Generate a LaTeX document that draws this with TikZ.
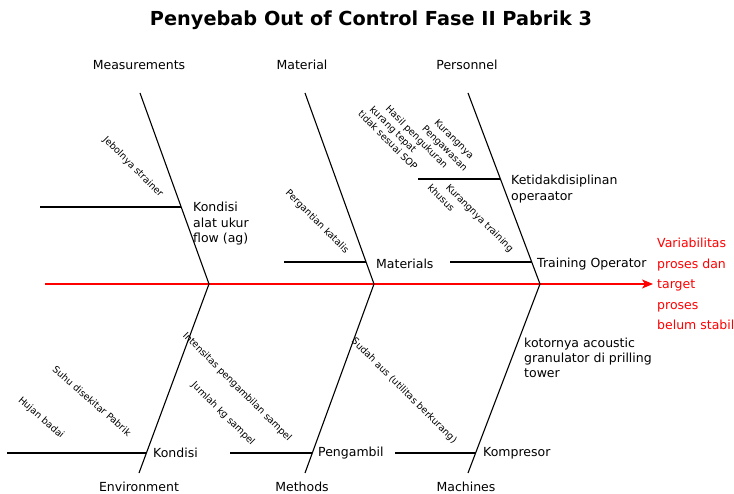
\documentclass[tikz,border=0pt]{standalone}
\usepackage{fontspec}
\setmainfont{DejaVu Sans}
\usetikzlibrary{arrows.meta}
\definecolor{effred}{RGB}{255,0,0}
\begin{document}
\begin{tikzpicture}[x=1pt,y=-1pt,
  bone/.style={line width=1.1pt, black},
  lab/.style={font=\fontsize{12.5}{15.5}\selectfont, inner sep=0pt, anchor=west, align=left},
  cat/.style={font=\fontsize{12.5}{15}\selectfont, inner sep=0pt},
  cause/.style={font=\fontsize{9.5}{11.5}\selectfont, inner sep=0pt, rotate=-45},
]
\useasboundingbox (0,0) rectangle (734,494);

% title
\node[font=\fontsize{19.3}{21}\bfseries\selectfont, inner sep=0pt] (title) at (371,20) {Penyebab Out of Control Fase II Pabrik 3};

% spine
\coordinate (spL) at (45,284);
\coordinate (spR) at (653,284);
\draw[line width=1.1pt, effred, -{Stealth[length=11pt,width=9pt,inset=3pt]}] (spL) -- (spR);

% bone end points
\coordinate (mT) at (140,93);  \coordinate (mB) at (209,284);
\coordinate (aT) at (305,93);  \coordinate (aB) at (374,284);
\coordinate (pT) at (468,93);  \coordinate (pB) at (540,284);
\coordinate (eB) at (139,473);
\coordinate (tB) at (305,473);
\coordinate (cB) at (468,473);

\draw[bone] (mT) -- (mB);
\draw[bone] (aT) -- (aB);
\draw[bone] (pT) -- (pB);
\draw[bone] (mB) -- (eB);
\draw[bone] (aB) -- (tB);
\draw[bone] (pB) -- (cB);

% branches
\coordinate (m1L) at (40,207);  \coordinate (m1R) at (181,207);
\coordinate (a1L) at (284,262); \coordinate (a1R) at (366,262);
\coordinate (p1L) at (418,179); \coordinate (p1R) at (500,179);
\coordinate (p2L) at (450,262); \coordinate (p2R) at (532,262);
\coordinate (e1L) at (7,453);   \coordinate (e1R) at (146,453);
\coordinate (t1L) at (230,453); \coordinate (t1R) at (312,453);
\coordinate (c1L) at (395,453); \coordinate (c1R) at (476,453);
\draw[bone] (m1L) -- (m1R);
\draw[bone] (a1L) -- (a1R);
\draw[bone] (p1L) -- (p1R);
\draw[bone] (p2L) -- (p2R);
\draw[bone] (e1L) -- (e1R);
\draw[bone] (t1L) -- (t1R);
\draw[bone] (c1L) -- (c1R);

% category labels
\node[cat] (meas) at (139,65) {Measurements};
\node[cat] (matl) at (302,65) {Material};
\node[cat] (pers) at (467,65) {Personnel};
\node[cat] (envi) at (139,487) {Environment};
\node[cat] (meth) at (302,487) {Methods};
\node[cat] (mach) at (466,487) {Machines};

% sub-cause labels
\node[lab] (kondA) at (193,224) {Kondisi\\alat ukur\\flow (ag)};
\node[lab] (mats) at (376,264) {Materials};
\node[lab] (ketid) at (511,189) {Ketidakdisiplinan\\operaator};
\node[lab] (train) at (537,264) {Training Operator};
\node[lab] (kond) at (153,453) {Kondisi};
\node[lab] (peng) at (318,453) {Pengambil};
\node[lab] (komp) at (483,453) {Kompresor};
\node[lab, font=\fontsize{12.5}{15}\selectfont] (koto) at (524,358) {kotornya acoustic\\granulator di prilling\\tower};

% effect
\node[lab, font=\fontsize{12.5}{20.5}\selectfont, text=effred] (eff) at (657,284) {Variabilitas\\proses dan\\target\\proses\\belum stabil};

% rotated causes
\node[cause] (jeb) at (133,167) {Jebolnya strainer};
\node[cause] (perg) at (317,222) {Pergantian katalis};
\node[cause, anchor=west, align=left] (hasil) at (368,104) {\hspace{16pt}Hasil pengukuran\\\hspace{5pt}kurang tepat\\tidak sesuai SOP};
\node[cause, align=center, font=\fontsize{9.5}{13}\selectfont] (kpeng) at (449,144) {Kurangnya\\Pengawasan};
\node[cause, anchor=west, align=left, font=\fontsize{9.5}{13}\selectfont] (ktrain) at (434,181) {\hspace{13pt}Kurangnya training\\khusus};
\node[cause] (sudah) at (404,391) {Sudah aus (utilitas berkurang)};
\node[cause] (inten) at (237,387) {Intensitas pengambilan sampel};
\node[cause] (juml) at (223,414) {Jumlah kg sampel};
\node[cause, rotate=4] (suhu) at (92,401) {Suhu disekitar Pabrik};
\node[cause, rotate=4] (hujan) at (41,418) {Hujan badai};
\end{tikzpicture}
\end{document}
